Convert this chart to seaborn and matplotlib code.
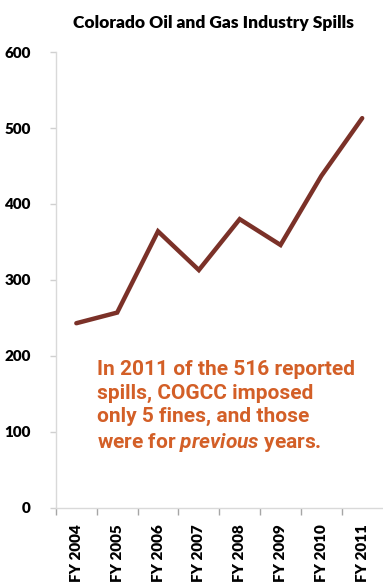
import matplotlib
matplotlib.use("Agg")
import matplotlib.pyplot as plt
import seaborn as sns
import pandas as pd

years = ["FY 2004", "FY 2005", "FY 2006", "FY 2007", "FY 2008", "FY 2009", "FY 2010", "FY 2011"]
spills = [243, 257, 364, 313, 380, 346, 437, 513]
yticks = [0, 100, 200, 300, 400, 500, 600]

title = "Colorado Oil and Gas Industry Spills"

sns.set_theme(style="white")
plt.rcParams['font.family'] = ['Lato', 'DejaVu Sans']
plt.rcParams['mathtext.fontset'] = 'custom'
plt.rcParams['mathtext.it'] = 'Roboto:italic:bold'
plt.rcParams['mathtext.rm'] = 'Roboto:bold'

df = pd.DataFrame({"year": years, "spills": spills})
df["pos"] = range(len(years))

fig = plt.figure(figsize=(3.83, 5.85), dpi=100)
ax = fig.add_axes([0.146, 0.132, 0.853, 0.779])

sns.lineplot(data=df, x="pos", y="spills", ax=ax, color="#7b3128", linewidth=3.2,
             solid_capstyle="round", solid_joinstyle="miter")

ax.set_xlim(-0.5, len(years) - 0.5)
ax.set_ylim(0, 600)
ax.set_yticks(yticks)
ax.set_yticklabels([str(v) for v in yticks], fontweight="heavy", fontsize=11, color="black")
ax.set_xticks([i + 0.5 for i in range(-1, len(years) - 1)])
ax.set_xticklabels([])
ax.set_xticks(range(len(years)), minor=True)
ax.set_xticklabels(years, minor=True, rotation=90, fontweight="heavy", fontsize=11, color="black")
ax.tick_params(axis="x", which="major", length=5, width=1, color="#a6a6a6", direction="out", bottom=True)
ax.tick_params(axis="x", which="minor", length=0, pad=12)
ax.tick_params(axis="y", length=4, width=1, color="#d0d0d0", direction="out", left=True, pad=14)
ax.set_xlabel("")
ax.set_ylabel("")

for s in ["top", "right"]:
    ax.spines[s].set_visible(False)
ax.spines["left"].set_color("#d9d9d9")
ax.spines["bottom"].set_color("#d9d9d9")
ax.spines["left"].set_linewidth(1)
ax.spines["bottom"].set_linewidth(1)

fig.text(0.557, 0.961, title, ha="center", va="center", fontsize=12.5, fontweight="heavy", color="black")

fig.text(0.253, 0.304, "In 2011 of the 516 reported\nspills, COGCC imposed\nonly 5 fines, and those\nwere for $\\mathit{previous}$ years.",
         ha="left", va="center", fontsize=15, fontweight="bold", color="#d35f27",
         family=["Roboto", "DejaVu Sans"], linespacing=1.3)

fig.savefig("out.png", dpi=100)
